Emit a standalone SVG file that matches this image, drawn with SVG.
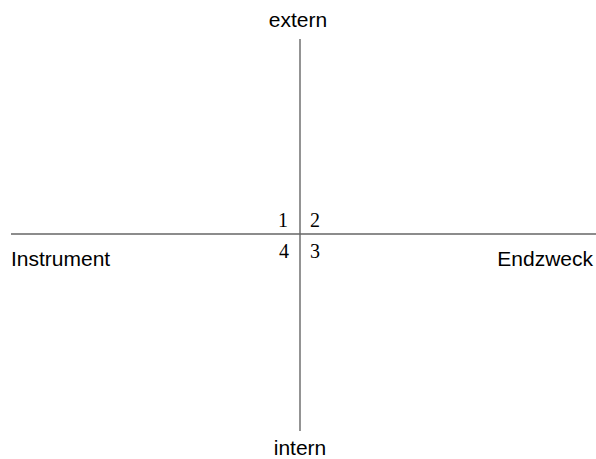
<svg xmlns="http://www.w3.org/2000/svg" width="596" height="459" viewBox="0 0 596 459">
<style>
.ax{stroke:#666;stroke-width:1.4;fill:none}
.lbl{font-family:"Liberation Sans",Arial,sans-serif;font-size:21px;fill:#000}
.num{font-family:"Liberation Serif","Times New Roman",serif;font-size:20px;fill:#000}
</style>
<rect width="596" height="459" fill="#fff"/>
<g id="connectors">
<line class="ax" x1="300" y1="39" x2="300" y2="431"/>
<line class="ax" x1="11" y1="234" x2="596" y2="234"/>
</g>
<g id="extern"><text class="lbl" x="298" y="27" text-anchor="middle">extern</text></g>
<g id="intern"><text class="lbl" x="300" y="455" text-anchor="middle">intern</text></g>
<g id="instrument"><text class="lbl" x="11" y="266">Instrument</text></g>
<g id="endzweck"><text class="lbl" x="593" y="266" text-anchor="end">Endzweck</text></g>
<g id="q1"><text class="num" x="288" y="227" text-anchor="end">1</text></g>
<g id="q2"><text class="num" x="310" y="227">2</text></g>
<g id="q4"><text class="num" x="289" y="258" text-anchor="end">4</text></g>
<g id="q3"><text class="num" x="310" y="258">3</text></g>
</svg>
